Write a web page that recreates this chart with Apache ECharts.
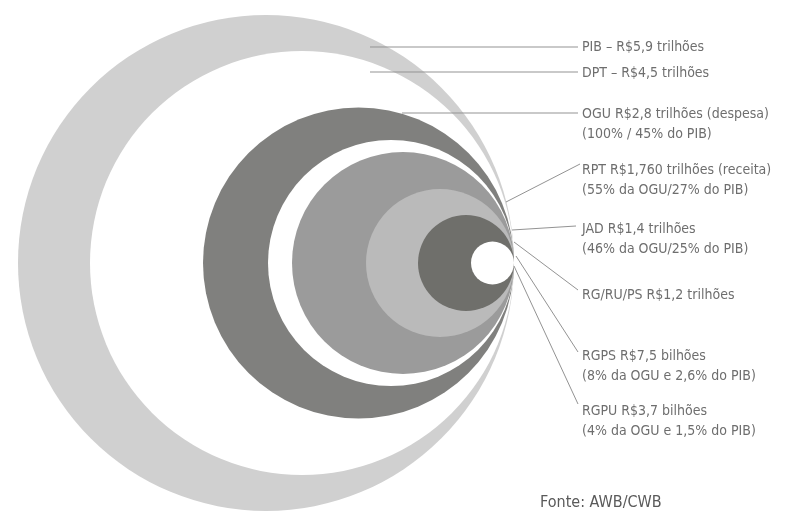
<!DOCTYPE html>
<html>
<head>
<meta charset="utf-8">
<script src="https://cdn.jsdelivr.net/npm/echarts@6/dist/echarts.min.js"></script>
<style>
  html, body { margin: 0; padding: 0; background: #ffffff; }
  #chart { width: 785px; height: 513px; }
</style>
</head>
<body>
<div id="chart"></div>
<script>
// Nested budget circles, all touching at a common point on the right.
const categories = ['PIB', 'DPT', 'OGU', 'RPT', 'JAD', 'RG/RU/PS', 'RGPS', 'RGPU'];
// relative circle radius of each aggregate, in diagram units
const circleValues = [248, 212, 155.5, 123, 111, 74, 48, 21.5];

const labelTexts = [
  ['PIB – R$5,9 trilhões'],
  ['DPT – R$4,5 trilhões'],
  ['OGU R$2,8 trilhões (despesa)', '(100% / 45% do PIB)'],
  ['RPT R$1,760 trilhões (receita)', '(55% da OGU/27% do PIB)'],
  ['JAD R$1,4 trilhões', '(46% da OGU/25% do PIB)'],
  ['RG/RU/PS R$1,2 trilhões'],
  ['RGPS R$7,5 bilhões', '(8% da OGU e 2,6% do PIB)'],
  ['RGPU R$3,7 bilhões', '(4% da OGU e 1,5% do PIB)']
];
const sourceText = 'Fonte: AWB/CWB';

// fill per circle
const fills = ['#d0d0d0', '#ffffff', '#80807e', '#ffffff', '#9b9b9b', '#bababa', '#6f6f6b', '#ffffff'];

// label layout (px) and leader lines
const labelX = 582;
const labelY = [46, 72, 113, 169, 228, 294, 355, 410];
const leaders = [
  [[370, 47], [578, 47]],
  [[370, 72], [578, 72]],
  [[402, 113], [578, 113]],
  [[506, 202], [580, 164]],
  [[512, 230], [576, 226]],
  [[514, 242], [578, 290]],
  [[516, 256], [578, 352]],
  [[514, 266], [578, 404]]
];

const FONT = "'Liberation Sans Narrow', 'DejaVu Sans Condensed', sans-serif";
const chart = echarts.init(document.getElementById('chart'), null, { renderer: 'canvas' });

const circleData = circleValues.map((r, i) => ({ name: categories[i], value: [-r, 0, r] }));

const graphics = [];
leaders.forEach(seg => {
  graphics.push({
    type: 'line', silent: true, z: 10,
    shape: { x1: seg[0][0], y1: seg[0][1], x2: seg[1][0], y2: seg[1][1] },
    style: { stroke: '#939393', lineWidth: 1 }
  });
});
labelTexts.forEach((lines, i) => {
  graphics.push({
    type: 'text', silent: true, z: 10,
    x: labelX, y: labelY[i] - 9,
    style: {
      text: lines.join('\n'), fill: '#6e6e6e', font: '14px ' + FONT,
      lineHeight: 20, textVerticalAlign: 'top'
    }
  });
});
graphics.push({
  type: 'text', silent: true, z: 10, x: 540, y: 495,
  style: { text: sourceText, fill: '#5a5a5a', font: '16px ' + FONT, textVerticalAlign: 'top' }
});

chart.setOption({
  backgroundColor: '#ffffff',
  animation: false,
  grid: { left: 0, right: 0, top: 0, bottom: 0 },
  xAxis: { type: 'value', min: -514, max: 271, show: false },
  yAxis: { type: 'value', min: -263, max: 250, inverse: true, show: false },
  series: [{
    type: 'custom',
    coordinateSystem: 'cartesian2d',
    data: circleData,
    renderItem: function (params, api) {
      const c = api.coord([api.value(0), api.value(1)]);
      const r = api.size([api.value(2), 0])[0];
      return {
        type: 'circle',
        shape: { cx: c[0], cy: c[1], r: r },
        style: { fill: fills[params.dataIndex], stroke: null }
      };
    }
  }],
  graphic: graphics
});
</script>
</body>
</html>
